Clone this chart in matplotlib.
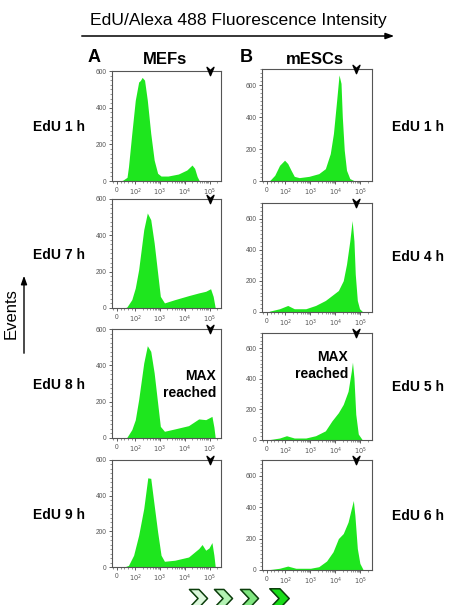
import matplotlib
matplotlib.use("Agg")
import matplotlib.pyplot as plt
from matplotlib.path import Path
from matplotlib.ticker import FixedLocator, NullFormatter

plt.rcParams['font.family'] = ['Liberation Sans', 'DejaVu Sans']

# ---------------- data ----------------
mef_1h_x = [20, 33, 55, 63, 81, 100, 137, 160, 190, 237, 307, 422, 580, 800, 1100, 2100, 5500, 12100, 19600, 25000, 31600, 39000]
mef_1h_y = [0, 5, 20, 78, 259, 440, 540, 548, 565, 550, 440, 259, 114, 42, 27, 27, 38, 60, 87, 69, 24, 0]

mef_7h_x = [40, 54, 81, 100, 137, 220, 307, 422, 580, 800, 1030, 1510, 3950, 14200, 36500, 70000, 110000, 140000, 170000]
mef_7h_y = [0, 5, 46, 110, 211, 431, 523, 486, 358, 193, 64, 28, 46, 68, 83, 92, 106, 64, 0]

mef_8h_x = [40, 54, 81, 100, 137, 220, 307, 422, 580, 800, 1030, 1510, 3950, 14200, 36500, 70000, 125000, 150000, 170000]
mef_8h_y = [0, 3, 46, 100, 211, 413, 508, 477, 358, 193, 64, 37, 50, 68, 105, 101, 119, 60, 0]

mef_9h_x = [40, 63, 91, 137, 220, 320, 422, 580, 800, 1100, 1510, 3950, 14200, 36500, 50000, 70000, 95000, 125000, 150000, 170000]
mef_9h_y = [0, 9, 66, 178, 328, 500, 497, 347, 197, 66, 32, 38, 56, 103, 126, 94, 107, 137, 66, 0]

esc_1h_x = [5, 16, 42, 68, 95, 123, 167, 225, 354, 870, 2150, 3940, 6200, 8300, 11200, 13900, 16700, 18800, 22500, 27700, 37500, 59000]
esc_1h_y = [0, 4, 36, 98, 130, 109, 67, 29, 21, 29, 46, 77, 171, 297, 506, 663, 610, 401, 192, 67, 15, 0]

esc_4h_x = [5, 16, 68, 123, 225, 650, 1600, 3940, 7200, 13100, 20500, 27700, 37500, 46500, 55000, 62000, 75000, 92000, 125000]
esc_4h_y = [0, 6, 21, 42, 21, 21, 42, 74, 106, 138, 201, 307, 456, 587, 456, 244, 74, 21, 0]

esc_5h_x = [5, 16, 68, 110, 225, 650, 1600, 3940, 7200, 13100, 20500, 32000, 43000, 48000, 55000, 65000, 82000, 120000]
esc_5h_y = [0, 3, 13, 28, 13, 13, 28, 60, 125, 179, 233, 319, 449, 509, 406, 168, 39, 0]

esc_6h_x = [5, 16, 68, 123, 260, 1000, 2150, 4400, 8000, 13100, 20500, 32000, 43000, 52000, 60000, 75000, 95000, 130000]
esc_6h_y = [0, 3, 11, 25, 11, 11, 21, 57, 116, 200, 232, 305, 389, 442, 347, 137, 42, 0]

mef_labels = ["EdU 1 h", "EdU 7 h", "EdU 8 h", "EdU 9 h"]
esc_labels = ["EdU 1 h", "EdU 4 h", "EdU 5 h", "EdU 6 h"]
x_ticks = [0, 1e2, 1e3, 1e4, 1e5]
x_ticklabels = ["0", "$10^2$", "$10^3$", "$10^4$", "$10^5$"]
y_ticks = [0, 200, 400, 600]
mef_marker_x = 1.05e5
esc_marker_x = 6.5e4

mef_series = [(mef_1h_x, mef_1h_y), (mef_7h_x, mef_7h_y), (mef_8h_x, mef_8h_y), (mef_9h_x, mef_9h_y)]
esc_series = [(esc_1h_x, esc_1h_y), (esc_4h_x, esc_4h_y), (esc_5h_x, esc_5h_y), (esc_6h_x, esc_6h_y)]

# ---------------- layout ----------------
W, H = 457, 605
fig = plt.figure(figsize=(W / 100, H / 100), dpi=100)
GREEN = '#1ee61e'

def fx(px):
    return px / W

def fy(py):
    return 1 - py / H

left_rows = [(71, 181), (199, 308), (329, 438), (460, 567)]
right_rows = [(69, 181), (203, 312), (333, 440), (460, 570)]

vmark = Path([(-1, 1.2), (0, -1.2), (1, 1.2), (0, 0.3), (-1, 1.2)],
             [Path.MOVETO, Path.LINETO, Path.LINETO, Path.LINETO, Path.CLOSEPOLY])

minor_x = [-20, 20, 40, 60, 80] + [m * 10 ** k for k in (2, 3, 4) for m in range(2, 10)] + [2e5]

def make_panel(x0, x1, top, bot, xs, ys, ymax, marker_x):
    ax = fig.add_axes([fx(x0), fy(bot), fx(x1 - x0), (bot - top) / H])
    ax.set_xscale('symlog', linthresh=100, linscale=0.666)
    ax.fill_between(xs, ys, 0, color=GREEN, linewidth=0)
    ax.set_xlim(-27, 2.9e5)
    ax.set_ylim(0, ymax)
    ax.xaxis.set_major_locator(FixedLocator(x_ticks))
    ax.set_xticklabels(x_ticklabels)
    ax.xaxis.set_minor_locator(FixedLocator(minor_x))
    ax.xaxis.set_minor_formatter(NullFormatter())
    ax.yaxis.set_major_locator(FixedLocator(y_ticks))
    ax.yaxis.set_minor_locator(FixedLocator(list(range(0, int(ymax) + 1, 25))))
    ax.tick_params(which='major', length=2.5, width=0.6, labelsize=4.8,
                   labelcolor='#555555', color='#444444', pad=1.5)
    ax.tick_params(which='minor', length=1.3, width=0.4, color='#444444')
    for s in ax.spines.values():
        s.set_linewidth(0.8)
        s.set_color('#555555')
    ax.plot([marker_x], [ymax], marker=vmark, markersize=6, color='black',
            clip_on=False, zorder=5, linestyle='none')
    return ax

for (top, bot), (xs, ys) in zip(left_rows, mef_series):
    make_panel(112, 221, top, bot, xs, ys, 600, mef_marker_x)
for (top, bot), (xs, ys) in zip(right_rows, esc_series):
    make_panel(262, 372, top, bot, xs, ys, 700, esc_marker_x)

# ---------------- overlay for decorations ----------------
ov = fig.add_axes([0, 0, 1, 1], zorder=10)
ov.set_xlim(0, W)
ov.set_ylim(H, 0)
ov.axis('off')
ov.patch.set_alpha(0)

ov.text(238, 21, "EdU/Alexa 488 Fluorescence Intensity", ha='center', va='center', fontsize=12.6)
ov.annotate('', xy=(397, 36), xytext=(79, 36),
            arrowprops=dict(arrowstyle='-|>,head_length=0.5,head_width=0.18', lw=1.1, color='black'))

ov.text(94, 57, "A", ha='center', va='center', fontsize=13, fontweight='bold')
ov.text(165, 59, "MEFs", ha='center', va='center', fontsize=12, fontweight='bold')
ov.text(246, 57, "B", ha='center', va='center', fontsize=13, fontweight='bold')
ov.text(315, 60, "mESCs", ha='center', va='center', fontsize=12, fontweight='bold')

for lab, y in zip(mef_labels, [127, 255, 385, 515]):
    ov.text(59, y, lab, ha='center', va='center', fontsize=10, fontweight='bold')
for lab, y in zip(esc_labels, [127, 257, 387, 516]):
    ov.text(418, y, lab, ha='center', va='center', fontsize=10, fontweight='bold')

ov.text(216, 376, "MAX", ha='right', va='center', fontsize=10, fontweight='bold')
ov.text(216, 393, "reached", ha='right', va='center', fontsize=10, fontweight='bold')
ov.text(348, 357, "MAX", ha='right', va='center', fontsize=10, fontweight='bold')
ov.text(348, 374, "reached", ha='right', va='center', fontsize=10, fontweight='bold')

ov.text(11, 314, "Events", ha='center', va='center', rotation=90, fontsize=12)
ov.annotate('', xy=(24, 273), xytext=(24, 356),
            arrowprops=dict(arrowstyle='-|>,head_length=0.5,head_width=0.18', lw=1.0, color='black'))

chev = Path([(-1, 1), (0.05, 1), (1, 0), (0.05, -1), (-1, -1), (-0.05, 0), (-1, 1)],
            [Path.MOVETO] + [Path.LINETO] * 5 + [Path.CLOSEPOLY])
chev_x = [198, 223, 249, 279]
chev_sizes = [13, 13, 13, 14]
chev_colors = ['#dcf8dc', '#b4f2b4', '#7fe67f', '#19dd19']
for cx, cs, cc in zip(chev_x, chev_sizes, chev_colors):
    ov.plot([cx], [598], marker=chev, markersize=cs, markerfacecolor=cc,
            markeredgecolor='#0b3d0b', markeredgewidth=1.1, linestyle='none')

fig.savefig('out.png', dpi=100)
